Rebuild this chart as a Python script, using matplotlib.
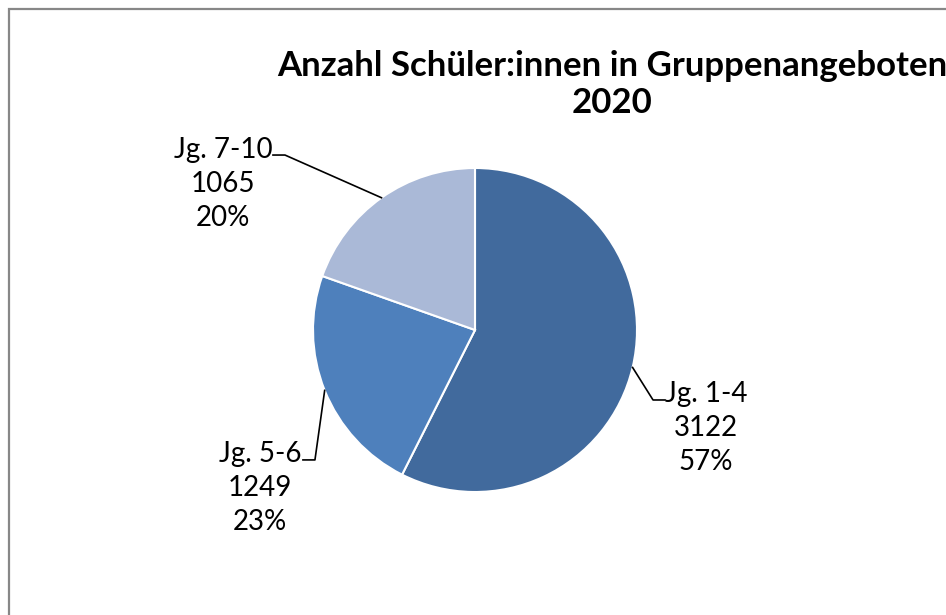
import numpy as np
import matplotlib
matplotlib.use("Agg")
import matplotlib.pyplot as plt
from matplotlib.patches import Rectangle

# Daten aus dem Diagramm
gruppen = ["Jg. 1-4", "Jg. 5-6", "Jg. 7-10"]
anzahl = [3122, 1249, 1065]
farben = ["#416A9D", "#4E80BC", "#AAB9D7"]
titel = "Anzahl Schüler:innen in Gruppenangeboten\n2020"

plt.rcParams["font.family"] = ["Lato", "DejaVu Sans"]

W, H = 946, 615
fig = plt.figure(figsize=(W / 100, H / 100), dpi=100)

# Kreis: Mitte (475, 330) px, Radius 162 px
cx, cy, r = 475, 330, 162
ax = fig.add_axes([(cx - r) / W, (H - cy - r) / H, 2 * r / W, 2 * r / H])
wedges, _ = ax.pie(anzahl, colors=farben, startangle=90, counterclock=False,
                   radius=1, wedgeprops=dict(edgecolor="white", linewidth=1.5))
ax.set_xlim(-1, 1)
ax.set_ylim(-1, 1)
ax.set_aspect("equal")
ax.axis("off")

gesamt = sum(anzahl)

# Beschriftungen: Textmitte, Knick und Ende der Linie (in Radien)
text_pos = [(1.426, -0.605), (-1.327, -0.975), (-1.556, 0.901)]
knick = [(1.099, -0.432), (-0.988, -0.802), (-1.173, 1.080)]
ende = [(1.173, -0.432), (-1.062, -0.802), (-1.247, 1.080)]

for i, w in enumerate(wedges):
    mitte = np.deg2rad((w.theta1 + w.theta2) / 2)
    rand = (np.cos(mitte), np.sin(mitte))
    ax.plot([rand[0], knick[i][0], ende[i][0]], [rand[1], knick[i][1], ende[i][1]],
            color="black", lw=1.2, clip_on=False)
    proz = round(anzahl[i] / gesamt * 100)
    ax.text(text_pos[i][0], text_pos[i][1], f"{gruppen[i]}\n{anzahl[i]}\n{proz}%",
            ha="center", va="center", fontsize=20, linespacing=1.37, clip_on=False)

fig.text(612 / W, 1 - 50 / H, titel, ha="center", va="top",
         fontsize=25, fontweight="bold", linespacing=1.18)

# Rahmen
fig.patches.append(Rectangle((8.5 / W, -0.2), 1.5, 1.2 - 8.5 / H, transform=fig.transFigure,
                             fill=False, edgecolor="#878787", lw=1.6))

fig.savefig("out.png", dpi=100)
